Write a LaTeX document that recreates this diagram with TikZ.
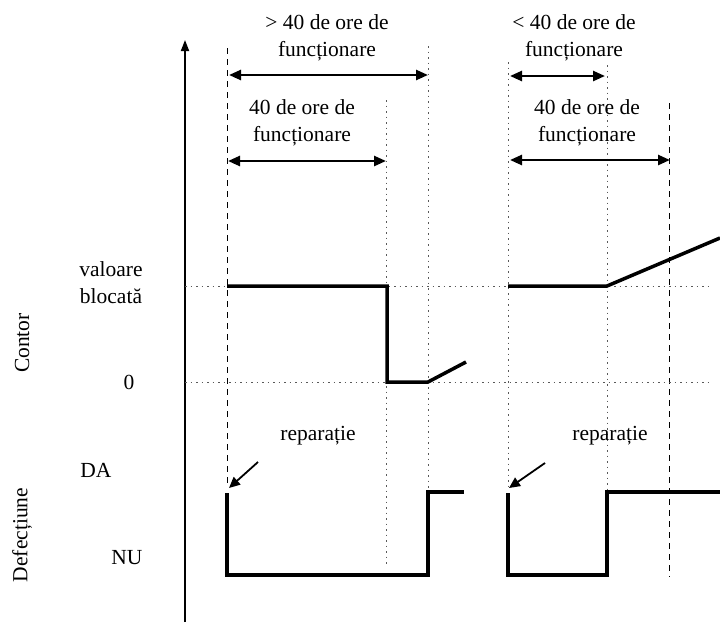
\documentclass[tikz,border=0pt]{standalone}
\usepackage{fontspec}
\setmainfont{Liberation Serif}
\usetikzlibrary{arrows.meta}
\begin{document}
\begin{tikzpicture}[x=1pt,y=-1pt,
  lbl/.style={font=\fontsize{21.5}{27}\selectfont, align=center, inner sep=0pt},
  sig/.style={line width=3.5pt, line join=miter},
  guide/.style={gray!70!black, line width=1pt, dash pattern=on 1.5pt off 4pt},
  dguide/.style={black, line width=1pt, dash pattern=on 6pt off 5pt},
  span/.style={{Triangle[length=12pt,width=10pt]}-{Triangle[length=12pt,width=10pt]}, line width=2.5pt},
  reparrow/.style={-{Triangle[length=11pt,width=10pt]}, line width=1.8pt},
]
\useasboundingbox (0,0) rectangle (720,622);
% axis
\coordinate (ax0) at (185,622);
\coordinate (ax1) at (185,40);
\draw[line width=1.8pt, -{Triangle[length=11pt,width=8pt]}] (ax0) -- (ax1);
% vertical guides
\coordinate (v1t) at (227,48);  \coordinate (v1b) at (227,487);
\coordinate (v2t) at (386,100); \coordinate (v2b) at (386,567);
\coordinate (v3t) at (428,46);  \coordinate (v3b) at (428,490);
\coordinate (v4t) at (508,62);  \coordinate (v4b) at (508,490);
\coordinate (v5t) at (607,65);  \coordinate (v5b) at (607,490);
\coordinate (v6t) at (669,103); \coordinate (v6b) at (669,577);
\draw[dguide] (v1t) -- (v1b);
\draw[dguide] (v6t) -- (v6b);
\draw[guide] (v2t) -- (v2b);
\draw[guide] (v3t) -- (v3b);
\draw[guide] (v4t) -- (v4b);
\draw[guide] (v5t) -- (v5b);
% horizontal guides
\coordinate (h1a) at (185,286); \coordinate (h1b) at (710,286);
\coordinate (h2a) at (185,382); \coordinate (h2b) at (710,382);
\draw[guide] (h1a) -- (h1b);
\draw[guide] (h2a) -- (h2b);
% counter signal
\coordinate (c1) at (227,286); \coordinate (c2) at (387,286);
\coordinate (c3) at (387,382); \coordinate (c4) at (428,382);
\coordinate (c5) at (466,362);
\draw[sig] (c1) -- (c2) -- (c3) -- (c4) -- (c5);
\coordinate (c6) at (508,286); \coordinate (c7) at (607,286);
\coordinate (c8) at (720,238);
\draw[sig] (c6) -- (c7) -- (c8);
% defect signal
\coordinate (d1) at (227,493); \coordinate (d2) at (227,575);
\coordinate (d3) at (428,575); \coordinate (d4) at (428,492);
\coordinate (d5) at (464,492);
\draw[sig] (d1) -- (d2) -- (d3) -- (d4) -- (d5);
\coordinate (d6) at (508,493); \coordinate (d7) at (508,575);
\coordinate (d8) at (607,575); \coordinate (d9) at (607,492);
\coordinate (d10) at (720,492);
\draw[sig] (d6) -- (d7) -- (d8) -- (d9) -- (d10);
% repair arrows
\coordinate (r1s) at (258,462); \coordinate (r1e) at (229,488);
\coordinate (r2s) at (545,463); \coordinate (r2e) at (509,488);
\draw[reparrow] (r1s) -- (r1e);
\draw[reparrow] (r2s) -- (r2e);
% span arrows
\coordinate (s1a) at (229,75);  \coordinate (s1b) at (428,75);
\coordinate (s2a) at (228,161); \coordinate (s2b) at (386,161);
\coordinate (s3a) at (510,76);  \coordinate (s3b) at (605,76);
\coordinate (s4a) at (510,160); \coordinate (s4b) at (670,160);
\draw[span] (s1a) -- (s1b);
\draw[span] (s2a) -- (s2b);
\draw[span] (s3a) -- (s3b);
\draw[span] (s4a) -- (s4b);
% labels
\node[lbl] (t1) at (327,38) {> 40 de ore de\\funcționare};
\node[lbl] (t2) at (302,123) {40 de ore de\\funcționare};
\node[lbl] (t3) at (574,38) {< 40 de ore de\\funcționare};
\node[lbl] (t4) at (587,123) {40 de ore de\\funcționare};
\node[lbl] (vb) at (111,283) {valoare\\blocată};
\node[lbl] (zero) at (129,382) {0};
\node[lbl] (da) at (96,470) {DA};
\node[lbl] (nu) at (127,558) {NU};
\node[lbl] (rep1) at (318,436) {reparație};
\node[lbl] (rep2) at (610,436) {reparație};
\node[lbl, rotate=90] (contor) at (22,343) {Contor};
\node[lbl, rotate=90] (defect) at (22,535) {Defecțiune};
\end{tikzpicture}
\end{document}
